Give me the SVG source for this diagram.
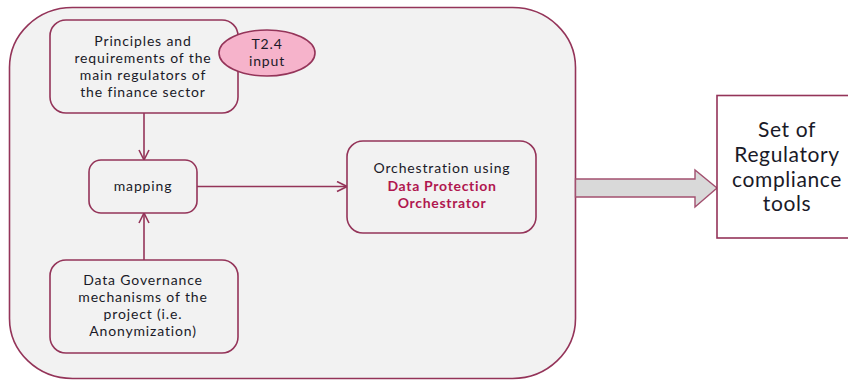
<svg xmlns="http://www.w3.org/2000/svg" width="848" height="380" viewBox="0 0 848 380">
  <defs>
    <style>
      .box { fill: #f2f2f2; stroke: #943459; stroke-width: 1.6; }
      .txt { font-family: Lato, "Open Sans", sans-serif; font-size: 14px; letter-spacing: 0.85px; fill: #1a1a28; text-anchor: middle; }
      .hl { fill: #b0174f; font-weight: bold; letter-spacing: 0.7px; }
      .big { font-family: Lato, "Open Sans", sans-serif; font-size: 21px; letter-spacing: 0.6px; fill: #1a1a28; text-anchor: middle; }
      .link { fill: none; stroke: #943459; stroke-width: 1.6; }
    </style>
    <marker id="open-arrow" viewBox="0 0 12 12" refX="11" refY="6" markerWidth="12" markerHeight="12" markerUnits="userSpaceOnUse" orient="auto">
      <path d="M1,1 L11,6 L1,11" fill="none" stroke="#943459" stroke-width="1.6"/>
    </marker>
  </defs>

  <!-- container -->
  <g id="container">
    <rect x="9.5" y="7.5" width="566" height="371" rx="63" ry="60" class="box"/>
  </g>

  <!-- connectors -->
  <g id="connectors">
    <line x1="144" y1="113" x2="144" y2="160" class="link" marker-end="url(#open-arrow)"/>
    <line x1="144" y1="260" x2="144" y2="213" class="link" marker-end="url(#open-arrow)"/>
    <line x1="197" y1="186.5" x2="347" y2="186.5" class="link" marker-end="url(#open-arrow)"/>
    <path d="M575.5,179 H695 V170 L717,188 L695,207 V197 H575.5 Z" fill="#d9d9d9" stroke="#a2506f" stroke-width="1.4"/>
  </g>

  <g id="principles">
    <rect x="50" y="20" width="188" height="93" rx="16" class="box"/>
    <text class="txt" x="143" y="46">Principles and</text>
    <text class="txt" x="143" y="63">requirements of the</text>
    <text class="txt" x="143" y="80">main regulators of</text>
    <text class="txt" x="143" y="97">the finance sector</text>
  </g>

  <g id="t24-input">
    <ellipse cx="267" cy="53" rx="48" ry="23" fill="#f6b3cb" stroke="#943459" stroke-width="1.6"/>
    <text class="txt" x="267" y="49">T2.4</text>
    <text class="txt" x="267" y="66">input</text>
  </g>

  <g id="mapping">
    <rect x="89" y="160" width="108" height="53" rx="12" class="box"/>
    <text class="txt" x="143" y="191">mapping</text>
  </g>

  <g id="governance">
    <rect x="50" y="260" width="188" height="93" rx="16" class="box"/>
    <text class="txt" x="143" y="285">Data Governance</text>
    <text class="txt" x="143" y="302">mechanisms of the</text>
    <text class="txt" x="143" y="319">project (i.e.</text>
    <text class="txt" x="143" y="336">Anonymization)</text>
  </g>

  <g id="orchestration">
    <rect x="347" y="141" width="189" height="92" rx="16" class="box"/>
    <text class="txt" x="442" y="173">Orchestration using</text>
    <text class="txt hl" x="442" y="191">Data Protection</text>
    <text class="txt hl" x="442" y="208">Orchestrator</text>
  </g>

  <g id="tools">
    <rect x="717" y="95.5" width="140" height="142.5" fill="#ffffff" stroke="#943459" stroke-width="1.6"/>
    <text class="big" x="787" y="137">Set of</text>
    <text class="big" x="787" y="162">Regulatory</text>
    <text class="big" x="787" y="187">compliance</text>
    <text class="big" x="787" y="211">tools</text>
  </g>
</svg>
